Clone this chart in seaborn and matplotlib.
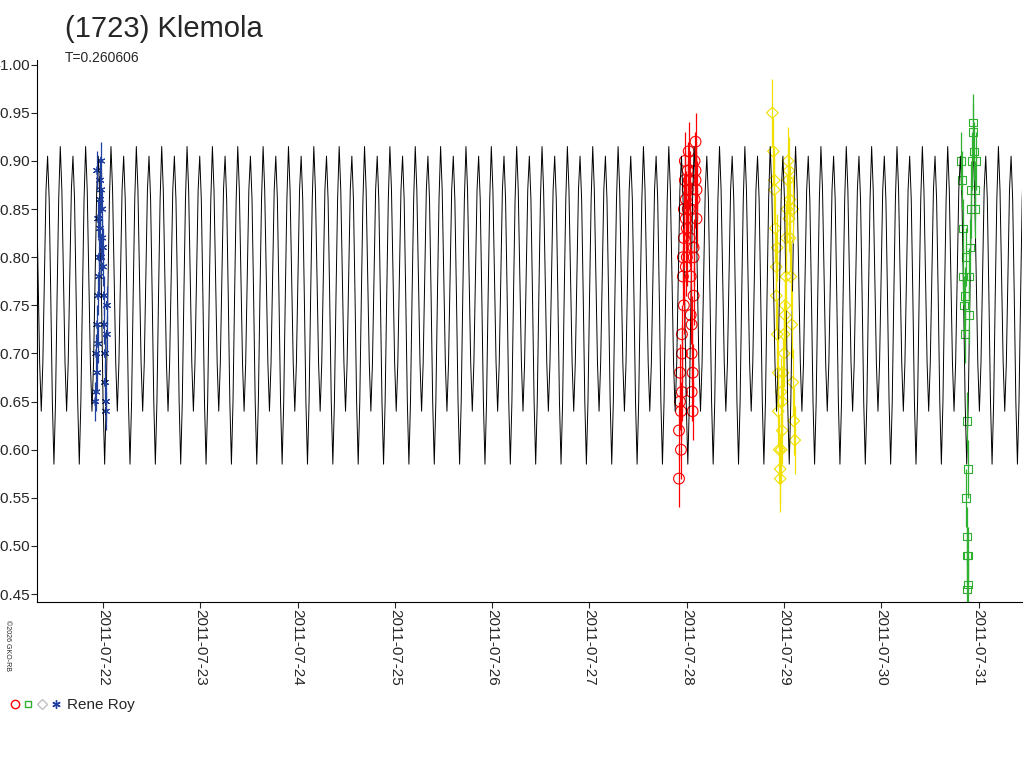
import numpy as np
import matplotlib
matplotlib.use("Agg")
import matplotlib.pyplot as plt
import seaborn as sns
from matplotlib.legend_handler import HandlerTuple
from matplotlib.lines import Line2D

# model curve: one rotation period (T=0.260606 d), repeated
period = 0.260606
shape_mag = [-0.915, -0.87, -0.78, -0.69, -0.64, -0.69, -0.78, -0.87,
             -0.905, -0.86, -0.76, -0.65, -0.585, -0.65, -0.76, -0.86]
curve_start = -0.70  # days relative to 2011-07-22

# observations, days relative to 2011-07-22
blue_t = [-0.08, -0.07, -0.07, -0.06, -0.06, -0.05, -0.05, -0.04, -0.04, -0.03,
          -0.03, -0.02, -0.02, -0.01, -0.01, 0.00, 0.00, 0.01, 0.01, 0.02,
          0.02, 0.03, 0.03, 0.04, 0.04, -0.06, -0.05, -0.04, -0.03, -0.02]
blue_m = [-0.65, -0.66, -0.70, -0.68, -0.73, -0.76, -0.71, -0.80, -0.84, -0.86,
          -0.88, -0.90, -0.87, -0.85, -0.82, -0.81, -0.79, -0.76, -0.73, -0.70,
          -0.67, -0.65, -0.64, -0.72, -0.75, -0.89, -0.84, -0.78, -0.83, -0.80]

red_t = [5.92, 5.92, 5.93, 5.93, 5.94, 5.94, 5.95, 5.95, 5.96, 5.96, 5.97, 5.97,
         5.98, 5.98, 5.99, 5.99, 6.00, 6.00, 6.01, 6.01, 6.02, 6.02, 6.03, 6.03,
         6.04, 6.04, 6.05, 6.05, 6.06, 6.06, 6.07, 6.07, 6.08, 6.08, 6.09, 6.09,
         6.10, 6.10, 5.95, 5.97, 5.99, 6.01, 6.03, 6.05, 6.07, 6.09]
red_m = [-0.57, -0.62, -0.65, -0.68, -0.60, -0.64, -0.72, -0.70, -0.78, -0.80,
         -0.82, -0.85, -0.88, -0.90, -0.86, -0.84, -0.80, -0.83, -0.87, -0.89,
         -0.91, -0.88, -0.85, -0.82, -0.78, -0.74, -0.70, -0.66, -0.64, -0.68,
         -0.76, -0.81, -0.86, -0.90, -0.92, -0.88, -0.87, -0.84, -0.66, -0.75,
         -0.79, -0.85, -0.88, -0.73, -0.80, -0.89]

yellow_t = [6.88, 6.89, 6.90, 6.90, 6.91, 6.92, 6.92, 6.93, 6.94, 6.94, 6.95,
            6.96, 6.96, 6.97, 6.98, 6.98, 6.99, 7.00, 7.00, 7.01, 7.02, 7.02,
            7.03, 7.04, 7.04, 7.05, 7.06, 7.06, 7.07, 7.08, 7.09, 7.10, 7.11,
            6.93, 6.97, 7.01, 7.05, 7.09]
yellow_m = [-0.95, -0.91, -0.88, -0.87, -0.83, -0.79, -0.76, -0.72, -0.68, -0.64,
            -0.60, -0.58, -0.57, -0.60, -0.62, -0.65, -0.68, -0.70, -0.72, -0.75,
            -0.78, -0.82, -0.85, -0.88, -0.90, -0.89, -0.86, -0.82, -0.78, -0.73,
            -0.67, -0.63, -0.61, -0.81, -0.66, -0.74, -0.84, -0.85]

green_t = [8.82, 8.83, 8.84, 8.84, 8.85, 8.86, 8.86, 8.87, 8.88, 8.89, 8.90,
           8.90, 8.91, 8.92, 8.92, 8.93, 8.94, 8.94, 8.95, 8.96, 8.96, 8.97,
           8.87, 8.88, 8.89, 8.88, 8.89, 8.88]
green_m = [-0.90, -0.88, -0.83, -0.78, -0.75, -0.72, -0.76, -0.80, -0.63, -0.58,
           -0.74, -0.78, -0.81, -0.85, -0.87, -0.90, -0.93, -0.94, -0.91, -0.87,
           -0.85, -0.90, -0.55, -0.51, -0.49, -0.49, -0.46, -0.455]

tick_days = list(range(0, 10))
tick_labels = ["2011-07-%02d" % (22 + d) for d in tick_days]
y_ticks = [-1.00, -0.95, -0.90, -0.85, -0.80, -0.75, -0.70, -0.65, -0.60, -0.55, -0.50, -0.45]

sns.set_style("white")
plt.rcParams['font.family'] = ['Liberation Sans', 'DejaVu Sans']

fig = plt.figure(figsize=(10.24, 7.68), dpi=100)
ax = fig.add_axes([0.036, 0.216, 0.962, 0.706])

n_cycles = 40
curve_m = np.tile(shape_mag, n_cycles)
curve_t = curve_start + np.arange(len(curve_m)) * period / len(shape_mag)
sns.lineplot(x=curve_t, y=curve_m, ax=ax, color="black", linewidth=0.7,
             sort=False, estimator=None)

series = [
    (blue_t, blue_m, "#2040a0", (6, 2, 0), 0.02, 30),
    (red_t, red_m, "red", "o", 0.03, 60),
    (yellow_t, yellow_m, "#f0e000", "D", 0.035, 35),
    (green_t, green_m, "#30b030", "s", 0.03, 30),
]
for t, m, col, mk, err, sz in series:
    ax.errorbar(t, m, yerr=err, fmt="none", ecolor=col, elinewidth=0.9)
    sns.scatterplot(x=t, y=m, ax=ax, marker=mk, s=sz, linewidth=0.8, color=col)
    ax.collections[-1].set_facecolor("none")
    ax.collections[-1].set_edgecolor(col)

ax.set_xlim(-0.68, 9.445)
ax.set_ylim(-0.4417, -1.005)
ax.set_yticks(y_ticks)
ax.set_yticklabels(["%.2f" % v for v in y_ticks], fontsize=11)
ax.set_xticks(tick_days)
ax.set_xticklabels(tick_labels, rotation=-90, fontsize=11)
ax.tick_params(axis="both", length=4, width=0.8, direction="out",
               bottom=True, left=True, pad=1)
for s in ["top", "right"]:
    ax.spines[s].set_visible(False)
for s in ["left", "bottom"]:
    ax.spines[s].set_color("black")
    ax.spines[s].set_linewidth(0.8)

fig.text(0.063, 0.962, "(1723) Klemola", fontsize=21, va="center")
fig.text(0.063, 0.925, "T=0.260606", fontsize=10, va="center")
fig.text(0.004, 0.16, "©2026 GKO-RB", fontsize=5, rotation=-90, va="center")

handles = (
    Line2D([], [], marker="o", color="red", mfc="none", ls="none", ms=6),
    Line2D([], [], marker="s", color="#30b030", mfc="none", ls="none", ms=5),
    Line2D([], [], marker="D", color="#c0c0c0", mfc="none", ls="none", ms=5),
    Line2D([], [], marker=(6, 2, 0), color="#2040a0", ls="none", ms=6),
)
fig.legend([handles], ["Rene Roy"], loc="lower left",
           bbox_to_anchor=(-0.005, 0.055), frameon=False, fontsize=11,
           handler_map={tuple: HandlerTuple(ndivide=None, pad=0.1)},
           handlelength=3.5, handletextpad=0.3)

fig.savefig("out.png", dpi=100)
